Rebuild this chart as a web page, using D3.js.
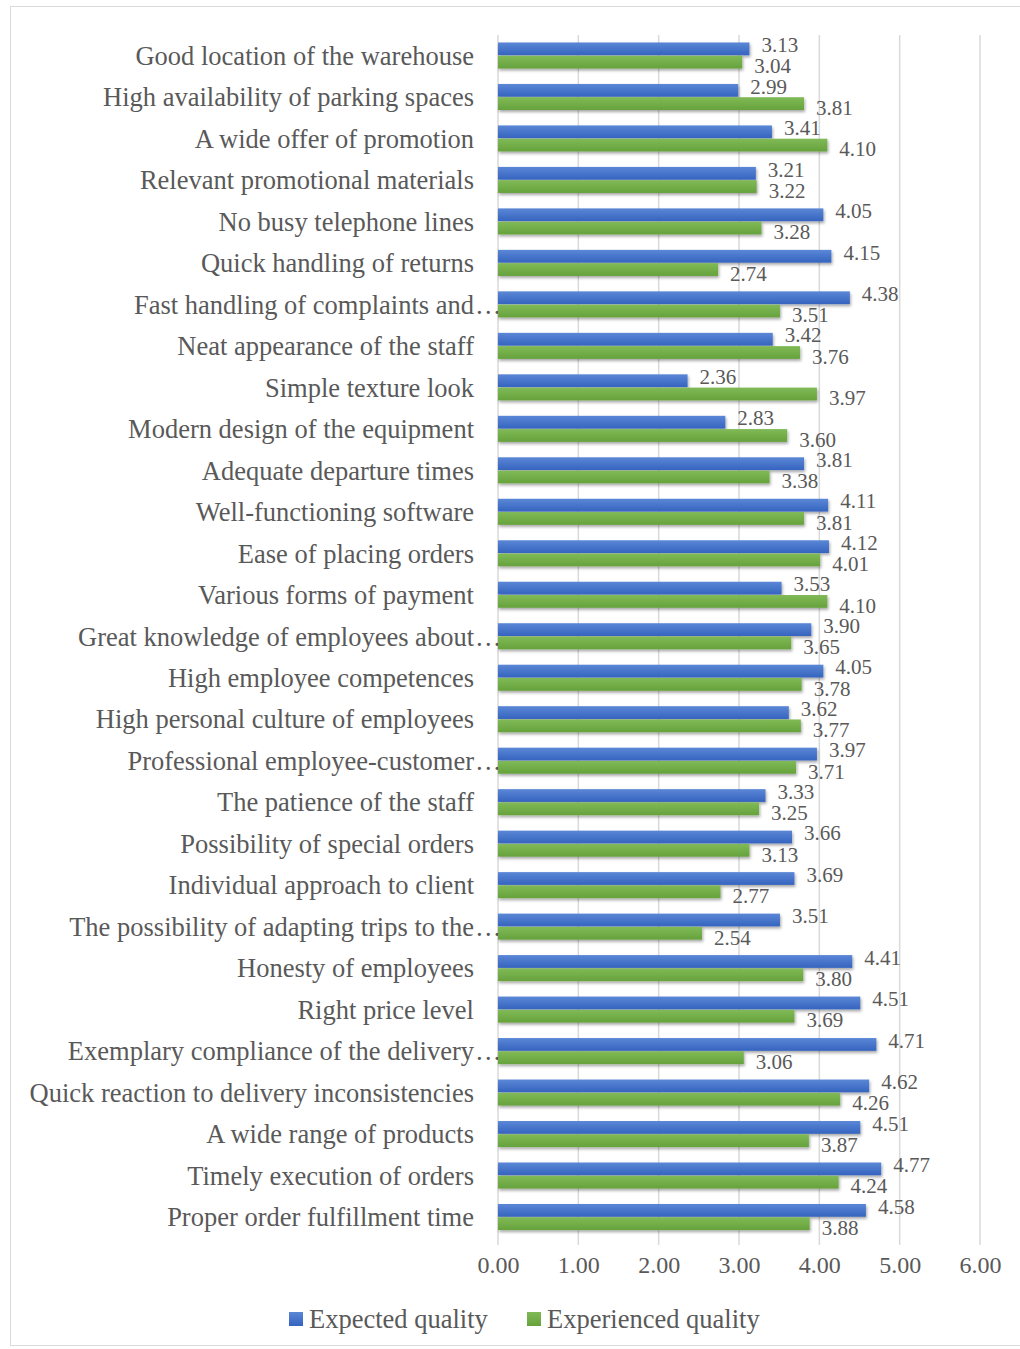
<!DOCTYPE html>
<html>
<head>
<meta charset="utf-8">
<script src="https://cdn.jsdelivr.net/npm/d3@7"></script>
<style>
  body { margin: 0; background: #fff; }
  text { font-family: "Liberation Serif", "Times New Roman", serif; fill: #595959; }
</style>
</head>
<body>
<div id="chart"></div>
<script>
// category names, top to bottom ("…" marks names Excel cut short)
var categories = [
  "Good location of the warehouse",
  "High availability of parking spaces",
  "A wide offer of promotion",
  "Relevant promotional materials",
  "No busy telephone lines",
  "Quick handling of returns",
  "Fast handling of complaints and…",
  "Neat appearance of the staff",
  "Simple texture look",
  "Modern design of the equipment",
  "Adequate departure times",
  "Well-functioning software",
  "Ease of placing orders",
  "Various forms of payment",
  "Great knowledge of employees about…",
  "High employee competences",
  "High personal culture of employees",
  "Professional employee-customer…",
  "The patience of the staff",
  "Possibility of special orders",
  "Individual approach to client",
  "The possibility of adapting trips to the…",
  "Honesty of employees",
  "Right price level",
  "Exemplary compliance of the delivery…",
  "Quick reaction to delivery inconsistencies",
  "A wide range of products",
  "Timely execution of orders",
  "Proper order fulfillment time"
];
var expected = [3.13, 2.99, 3.41, 3.21, 4.05, 4.15, 4.38, 3.42, 2.36, 2.83,
  3.81, 4.11, 4.12, 3.53, 3.90, 4.05, 3.62, 3.97, 3.33, 3.66,
  3.69, 3.51, 4.41, 4.51, 4.71, 4.62, 4.51, 4.77, 4.58];
var experienced = [3.04, 3.81, 4.10, 3.22, 3.28, 2.74, 3.51, 3.76, 3.97, 3.60,
  3.38, 3.81, 4.01, 4.10, 3.65, 3.78, 3.77, 3.71, 3.25, 3.13,
  2.77, 2.54, 3.80, 3.69, 3.06, 4.26, 3.87, 4.24, 3.88];
var seriesNames = ["Expected quality", "Experienced quality"];
var xTicks = [0, 1, 2, 3, 4, 5, 6];

var W = 1020, H = 1349;
var margin = {top: 35, left: 498};
var width = 980 - margin.left,
    height = 1210;

var svg = d3.select("#chart").append("svg")
  .attr("width", W).attr("height", H);

// outer frame
svg.append("rect")
  .attr("x", 10.5).attr("y", 6.5)
  .attr("width", W).attr("height", H - 10)
  .attr("fill", "none").attr("stroke", "#d9d9d9");

var defs = svg.append("defs");
function grad(id, c1, c2) {
  var g = defs.append("linearGradient").attr("id", id)
    .attr("x1", 0).attr("y1", 0).attr("x2", 0).attr("y2", 1);
  g.append("stop").attr("offset", "0%").attr("stop-color", c1);
  g.append("stop").attr("offset", "100%").attr("stop-color", c2);
}
grad("gBlue", "#5b87d6", "#3564bf");
grad("gGreen", "#80ba57", "#66a23c");
var f = defs.append("filter").attr("id", "shadow")
  .attr("x", "-5%").attr("y", "-30%").attr("width", "110%").attr("height", "180%");
f.append("feDropShadow").attr("dx", 1).attr("dy", 2).attr("stdDeviation", 1.5)
  .attr("flood-color", "#000").attr("flood-opacity", 0.35);

var g = svg.append("g")
  .attr("transform", "translate(" + margin.left + "," + margin.top + ")");

var x = d3.scaleLinear().domain([0, 6]).range([0, width]);
var y = d3.scaleBand().domain(categories).range([0, 1203]).paddingInner(0.36).paddingOuter(0.18);
var sub = d3.scaleBand().domain(seriesNames).range([0, y.bandwidth()]);

// gridlines
g.selectAll("line.grid").data(xTicks).enter().append("line")
  .attr("x1", function(d) { return x(d); }).attr("x2", function(d) { return x(d); })
  .attr("y1", 0).attr("y2", height)
  .attr("stroke", "#d9d9d9").attr("stroke-width", 1.5);

// x axis labels
var xAxis = g.append("g")
  .attr("transform", "translate(0," + height + ")")
  .call(d3.axisBottom(x).tickValues(xTicks).tickFormat(d3.format(".2f")).tickSize(0).tickPadding(11));
xAxis.select(".domain").remove();
xAxis.selectAll("text")
  .style("font-family", "Liberation Serif, serif").style("font-size", "24px").attr("fill", "#595959");

// category labels
var yAxis = g.append("g");
categories.forEach(function(c, i) {
  var cy = y(c) + y.bandwidth() / 2 + 9;
  var cut = c.endsWith("…");
  var t = cut ? c.slice(0, -1) : c;
  yAxis.append("text").attr("x", -24).attr("y", cy)
    .attr("text-anchor", "end").style("font-size", "26.5px").text(t);
  if (cut) {
    yAxis.append("text").attr("x", -23).attr("y", cy)
      .style("font-size", "26.5px").text("…");
  }
});

var series = [
  {name: seriesNames[0], values: expected, fill: "url(#gBlue)", dy: -4},
  {name: seriesNames[1], values: experienced, fill: "url(#gGreen)", dy: 4}
];

series.forEach(function(s) {
  g.selectAll(null).data(s.values).enter().append("rect")
    .attr("x", x(0))
    .attr("y", function(d, i) { return y(categories[i]) + sub(s.name); })
    .attr("width", function(d) { return x(d) - x(0); })
    .attr("height", sub.bandwidth() - 0.5)
    .attr("fill", s.fill)
    .attr("filter", "url(#shadow)");
});

series.forEach(function(s) {
  g.selectAll(null).data(s.values).enter().append("text")
    .attr("x", function(d) { return x(d) + 12; })
    .attr("y", function(d, i) { return y(categories[i]) + sub(s.name) + sub.bandwidth() / 2 + s.dy + 7; })
    .style("font-size", "21px")
    .text(function(d) { return d.toFixed(2); });
});

// legend
var legend = svg.append("g").attr("transform", "translate(0,1319)");
var lx = [289, 527];
seriesNames.forEach(function(n, i) {
  legend.append("rect").attr("x", lx[i]).attr("y", -7).attr("width", 14).attr("height", 14)
    .attr("fill", i === 0 ? "url(#gBlue)" : "url(#gGreen)");
  legend.append("text").attr("x", lx[i] + 20).attr("y", 9)
    .style("font-size", "26.5px").text(n);
});
</script>
</body>
</html>
